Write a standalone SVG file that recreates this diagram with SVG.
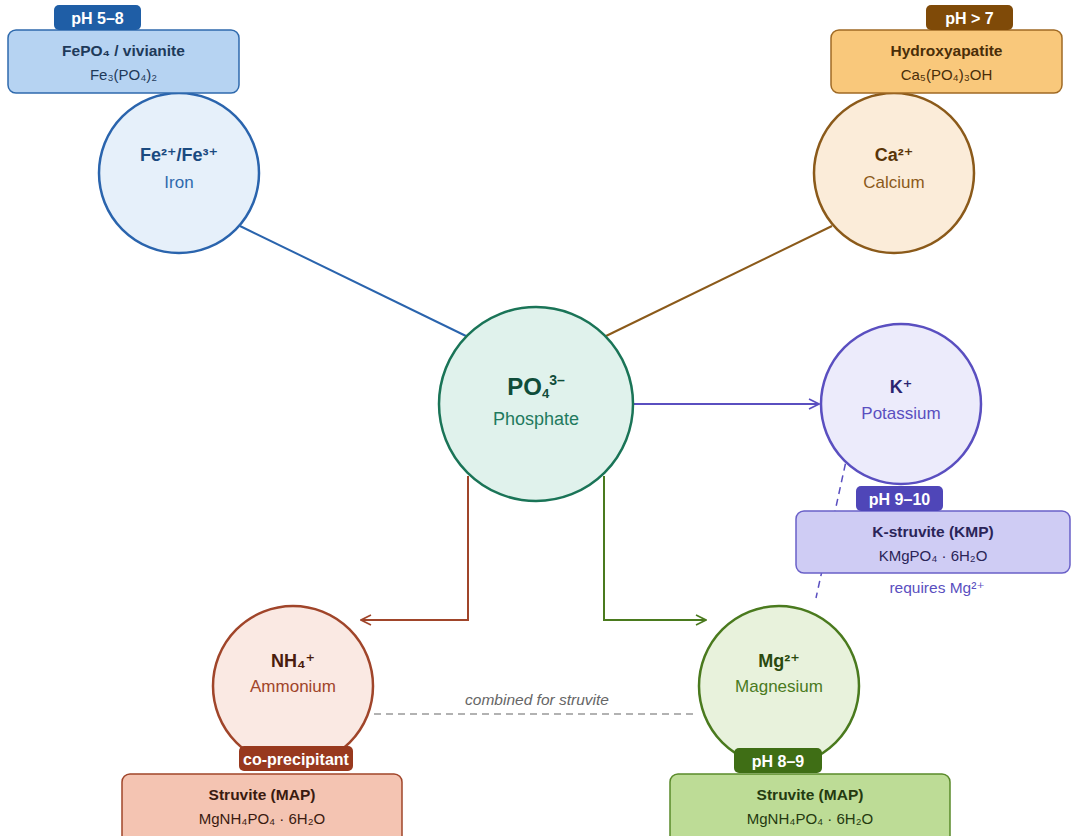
<svg xmlns="http://www.w3.org/2000/svg" width="1071" height="836" viewBox="0 0 1071 836">
<defs>
<style>
text{font-family:"Liberation Sans","DejaVu Sans",Arial,sans-serif;text-anchor:middle}
.t{font-weight:bold;font-size:18px}
.s{font-size:17px}
.bt{font-weight:bold;font-size:15.5px}
.bf{font-size:15px}
.badge{font-weight:bold;font-size:16px;fill:#fff}
.circ{stroke-width:2.5}
.box{stroke-width:1.5}
</style>
<marker id="aBrown" viewBox="0 0 12 12" refX="11" refY="6" markerWidth="12" markerHeight="12" markerUnits="userSpaceOnUse" orient="auto"><path d="M1,1 L11,6 L1,11" fill="none" stroke="#a0452a" stroke-width="1.6"/></marker>
<marker id="aGreen" viewBox="0 0 12 12" refX="11" refY="6" markerWidth="12" markerHeight="12" markerUnits="userSpaceOnUse" orient="auto"><path d="M1,1 L11,6 L1,11" fill="none" stroke="#4a7a1e" stroke-width="1.6"/></marker>
<marker id="aPurple" viewBox="0 0 12 12" refX="11" refY="6" markerWidth="12" markerHeight="12" markerUnits="userSpaceOnUse" orient="auto"><path d="M1,1 L11,6 L1,11" fill="none" stroke="#5a4fc0" stroke-width="1.6"/></marker>
</defs>
<rect width="1071" height="836" fill="#fff"/>

<g id="connectors" fill="none" stroke-width="2">
<line x1="240" y1="226" x2="466" y2="336" stroke="#2a64ad"/>
<line x1="832" y1="226" x2="606" y2="336" stroke="#8b5a1a"/>
<line x1="634" y1="404" x2="819" y2="404" stroke="#5a4fc0" marker-end="url(#aPurple)"/>
<polyline points="468,476 468,620 361,620" stroke="#a0452a" marker-end="url(#aBrown)"/>
<polyline points="604,476 604,620 706,620" stroke="#4a7a1e" marker-end="url(#aGreen)"/>
<line x1="374" y1="714" x2="697" y2="714" stroke="#999" stroke-width="1.5" stroke-dasharray="7,5"/>
<line x1="848" y1="452" x2="816" y2="598" stroke="#5a4fc0" stroke-width="1.5" stroke-dasharray="7,5"/>
<text x="537" y="705" style="font-size:15.5px;font-style:italic" fill="#666">combined for struvite</text>
</g>

<g id="phosphate">
<circle cx="536" cy="404" r="97" fill="#e0f2ec" stroke="#1a7457" class="circ"/>
<text x="536" y="395" style="font-weight:bold;font-size:24px" fill="#0f4d3a">PO<tspan font-size="13" dy="3">4</tspan><tspan font-size="14" dy="-13">3–</tspan></text>
<text x="536" y="425" style="font-size:18px" fill="#1f7a5e">Phosphate</text>
</g>

<g id="iron">
<circle cx="179" cy="173" r="80" fill="#e6f0fa" stroke="#2a64ad" class="circ"/>
<text x="179" y="161" class="t" fill="#1a4a80">Fe²⁺/Fe³⁺</text>
<text x="179" y="188" class="s" fill="#2f6aad">Iron</text>
<rect x="8" y="30" width="231" height="63" rx="8" fill="#b6d3f2" stroke="#2f6aad" class="box"/>
<text x="123.5" y="56" class="bt" fill="#1e3a5a">FePO₄ / vivianite</text>
<text x="123.5" y="80" class="bf" fill="#1e3a5a">Fe₃(PO₄)₂</text>
<rect x="54" y="5" width="87" height="25" rx="5" fill="#1f5ea6"/>
<text x="97.5" y="23.5" class="badge">pH 5–8</text>
</g>

<g id="calcium">
<circle cx="894" cy="173" r="80" fill="#fbecd9" stroke="#8b5a1a" class="circ"/>
<text x="894" y="161" class="t" fill="#5a3508">Ca²⁺</text>
<text x="894" y="188" class="s" fill="#8b5a1a">Calcium</text>
<rect x="831" y="30" width="231" height="63" rx="8" fill="#f9c87b" stroke="#a06a24" class="box"/>
<text x="946.5" y="56" class="bt" fill="#4a2e08">Hydroxyapatite</text>
<text x="946.5" y="80" class="bf" fill="#4a2e08">Ca₅(PO₄)₃OH</text>
<rect x="926" y="5" width="87" height="25" rx="5" fill="#7f4a08"/>
<text x="969.5" y="23.5" class="badge">pH &gt; 7</text>
</g>

<g id="potassium">
<circle cx="901" cy="404" r="80" fill="#ecebfb" stroke="#5a4fc0" class="circ"/>
<text x="901" y="393" class="t" fill="#2a2470">K⁺</text>
<text x="901" y="419" class="s" fill="#5a4fc0">Potassium</text>
<rect x="796" y="511" width="274" height="62" rx="8" fill="#cfccf4" stroke="#6a60c8" class="box"/>
<text x="933" y="537" class="bt" fill="#2a2458">K-struvite (KMP)</text>
<text x="933" y="561" class="bf" fill="#2a2458">KMgPO₄ · 6H₂O</text>
<rect x="856" y="486" width="87" height="25" rx="5" fill="#4f46b8"/>
<text x="899.5" y="504.5" class="badge">pH 9–10</text>
<text x="937" y="593" style="font-size:15.5px" fill="#5a4fc0">requires Mg²⁺</text>
</g>

<g id="ammonium">
<circle cx="293" cy="686" r="80" fill="#fae9e3" stroke="#a0452a" class="circ"/>
<text x="293" y="667" class="t" fill="#4a1c0e">NH₄⁺</text>
<text x="293" y="692" class="s" fill="#a0452a">Ammonium</text>
<rect x="122" y="774" width="280" height="72" rx="8" fill="#f4c4b2" stroke="#a0452a" class="box"/>
<text x="262" y="800" class="bt" fill="#3a1a10">Struvite (MAP)</text>
<text x="262" y="824" class="bf" fill="#3a1a10">MgNH₄PO₄ · 6H₂O</text>
<rect x="239" y="746" width="114" height="25" rx="5" fill="#98391e"/>
<text x="296" y="764.5" class="badge">co-precipitant</text>
</g>

<g id="magnesium">
<circle cx="779" cy="686" r="80" fill="#e8f2dc" stroke="#4a7a1e" class="circ"/>
<text x="779" y="667" class="t" fill="#2a4a0e">Mg²⁺</text>
<text x="779" y="692" class="s" fill="#4a7a1e">Magnesium</text>
<rect x="670" y="774" width="280" height="72" rx="8" fill="#bddc96" stroke="#5a8a2a" class="box"/>
<text x="810" y="800" class="bt" fill="#243a10">Struvite (MAP)</text>
<text x="810" y="824" class="bf" fill="#243a10">MgNH₄PO₄ · 6H₂O</text>
<rect x="734" y="748" width="88" height="25" rx="5" fill="#3f6e15"/>
<text x="778" y="766.5" class="badge">pH 8–9</text>
</g>
</svg>
